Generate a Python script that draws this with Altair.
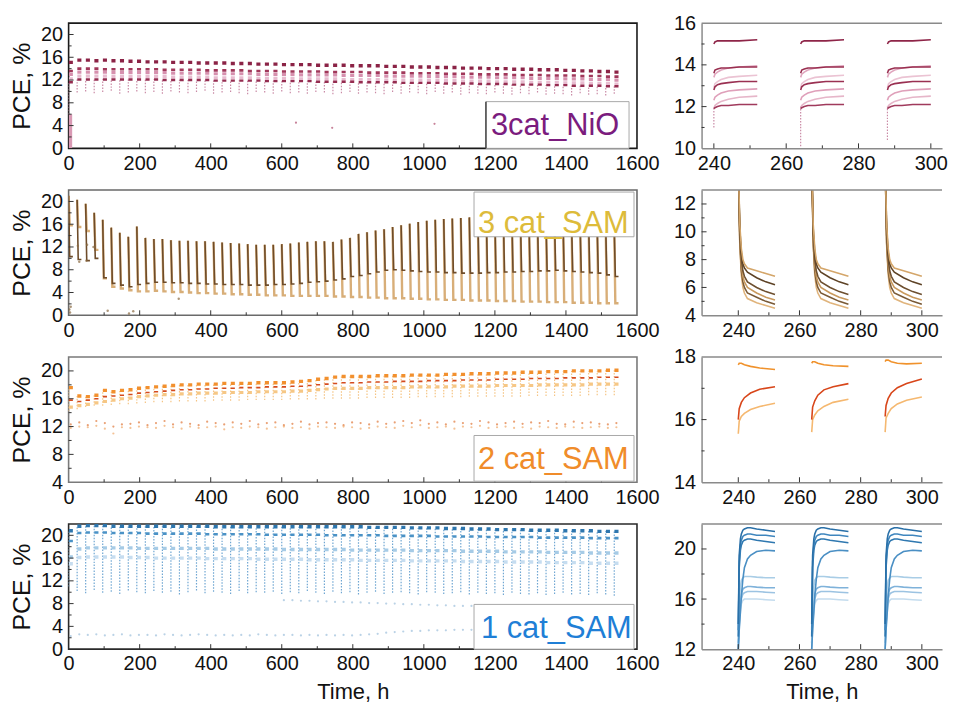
import altair as alt
import pandas as pd

FONT = "Liberation Sans"

# ---------------- shared time grid ----------------
cycle_start = list(range(0, 1537, 24))          # start of each 12 h light period
zoom_cycles = [240, 264, 288]

# ---------------- 3cat_NiO (left) ----------------
nio_top = [15.1,15.5,15.5,15.4,15.5,15.4,15.4,15.3,15.3,15.2,
           15.2,15.2,15.1,15.1,15.1,15.0,15.0,15.0,15.0,14.9,
           14.9,14.9,14.8,14.8,14.8,14.7,14.7,14.7,14.7,14.6,
           14.6,14.6,14.6,14.5,14.5,14.5,14.5,14.4,14.4,14.4,
           14.3,14.3,14.3,14.2,14.2,14.2,14.1,14.1,14.1,14.0,
           14.0,14.0,13.9,13.9,13.9,13.8,13.8,13.8,13.7,13.7,
           13.6,13.6,13.5,13.5,13.4]
nio_d2 = [13.6,14.0,14.0,14.0,13.9,13.9,13.9,13.9,13.9,13.9,
          13.9,13.8,13.8,13.8,13.8,13.8,13.7,13.7,13.7,13.7,
          13.7,13.6,13.6,13.6,13.6,13.5,13.5,13.5,13.5,13.5,
          13.4,13.4,13.4,13.4,13.4,13.3,13.3,13.3,13.3,13.3,
          13.2,13.2,13.2,13.2,13.1,13.1,13.1,13.1,13.0,13.0,
          13.0,13.0,12.9,12.9,12.9,12.9,12.8,12.8,12.8,12.8,
          12.7,12.7,12.7,12.6,12.6]
nio_l1 = [13.0,13.4,13.4,13.4,13.4,13.3,13.3,13.3,13.3,13.3,
          13.3,13.3,13.2,13.2,13.2,13.2,13.2,13.1,13.1,13.1,
          13.1,13.1,13.0,13.0,13.0,13.0,13.0,12.9,12.9,12.9,
          12.9,12.9,12.8,12.8,12.8,12.8,12.8,12.7,12.7,12.7,
          12.7,12.7,12.6,12.6,12.6,12.6,12.5,12.5,12.5,12.5,
          12.4,12.4,12.4,12.4,12.3,12.3,12.3,12.3,12.2,12.2,
          12.2,12.1,12.1,12.1,12.0]
nio_l2 = [12.2,12.7,12.7,12.7,12.7,12.6,12.6,12.6,12.6,12.6,
          12.6,12.6,12.5,12.5,12.5,12.5,12.5,12.4,12.4,12.4,
          12.4,12.4,12.3,12.3,12.3,12.3,12.3,12.2,12.2,12.2,
          12.2,12.2,12.1,12.1,12.1,12.1,12.1,12.0,12.0,12.0,
          12.0,12.0,11.9,11.9,11.9,11.9,11.8,11.8,11.8,11.8,
          11.7,11.7,11.7,11.7,11.6,11.6,11.6,11.6,11.5,11.5,
          11.5,11.4,11.4,11.4,11.3]
nio_d4 = [11.6,12.1,12.1,12.1,12.1,12.1,12.1,12.1,12.1,12.1,
          12.1,12.0,12.0,12.0,12.0,12.0,12.0,11.9,11.9,11.9,
          11.9,11.9,11.9,11.8,11.8,11.8,11.8,11.8,11.8,11.7,
          11.7,11.7,11.7,11.7,11.6,11.6,11.6,11.6,11.6,11.5,
          11.5,11.5,11.5,11.5,11.4,11.4,11.4,11.4,11.3,11.3,
          11.3,11.3,11.2,11.2,11.2,11.2,11.1,11.1,11.1,11.0,
          11.0,11.0,11.0,10.9,10.9]
nio_low = [6.0,9.8,10.0,9.7,9.9,10.1,9.6,9.8,10.0,9.7,
           9.9,9.6,10.0,9.8,9.7,9.9,10.1,9.6,9.8,9.9,
           9.7,9.5,9.9,9.8,9.6,10.0,9.7,9.8,9.6,9.9,
           9.8,9.5,9.7,9.9,9.6,9.8,9.7,9.5,9.9,9.6,
           9.8,9.7,9.5,9.9,9.6,9.8,9.4,9.7,9.6,9.5,
           9.8,9.6,9.4,9.7,9.5,9.8,9.4,9.6,9.5,9.3,
           9.7,9.4,9.5,9.3,9.6]
nio_early_span = [0, 10, 0, 6]          # t0, t1, v0, v1 of the failed-start column
nio_out_t = [640, 742, 1030]
nio_out_v = [4.5, 3.6, 4.3]

# ---------------- 3 cat_SAM (left) ----------------
sam3_top = [21.0,20.3,19.6,18.0,16.8,15.4,14.5,13.8,15.6,13.6,
            13.4,13.4,13.2,13.1,13.1,13.0,13.0,12.9,12.8,12.7,
            12.6,12.5,12.4,12.4,12.4,12.5,12.6,12.8,12.9,13.0,
            13.0,12.9,13.3,13.6,14.3,14.6,14.9,15.1,15.5,15.8,
            16.1,16.4,16.6,16.8,16.9,17.0,17.1,17.2,17.2,17.1,
            17.0,16.9,16.8,16.7,16.6,16.5,16.4,16.2,16.0,15.9,
            15.8,15.7,15.5,15.4,15.2]
sam3_dark_end = [10.3,9.8,9.6,10.0,6.6,5.6,5.3,5.0,5.4,5.6,
                 5.8,5.8,5.7,5.7,5.6,5.6,5.5,5.5,5.4,5.4,
                 5.4,5.3,5.3,5.3,5.4,5.4,5.5,5.6,5.8,5.9,
                 6.0,6.2,6.4,6.8,7.0,7.3,7.6,7.9,8.0,7.9,
                 7.8,7.7,7.6,7.6,7.5,7.5,7.4,7.4,7.4,7.5,
                 7.5,7.6,7.6,7.7,7.7,7.8,7.8,7.9,7.8,7.7,
                 7.6,7.5,7.4,7.1,6.8]
sam3_light_end = [15.8,15.5,14.8,11.5,6.5,5.0,4.7,4.4,4.2,4.2,
                  4.3,4.2,4.1,4.1,4.0,3.9,3.9,3.8,3.8,3.7,
                  3.7,3.6,3.6,3.5,3.5,3.5,3.4,3.4,3.4,3.4,
                  3.4,3.3,3.3,3.2,3.2,3.1,3.1,3.0,3.0,3.0,
                  2.9,2.9,2.8,2.8,2.7,2.7,2.7,2.6,2.6,2.6,
                  2.5,2.5,2.5,2.4,2.4,2.4,2.3,2.3,2.3,2.2,
                  2.2,2.2,2.1,2.1,2.1]
sam3_out_t = [2, 4, 6, 26, 30, 50, 52, 70, 110, 170, 182, 310]
sam3_out_v = [1.0, 0.5, 1.5, 12.2, 9.4, 9.6, 12.4, 12.0, 0.8, 0.3, 0.7, 2.9]

# ---------------- 2 cat_SAM (left) ----------------
sam2_top = [17.6,16.4,16.3,16.5,17.2,17.0,17.2,17.3,17.5,17.6,
            17.7,17.8,17.9,18.0,18.0,18.1,18.1,18.1,18.2,18.2,
            18.2,18.2,18.3,18.3,18.3,18.3,18.4,18.5,18.6,18.8,
            18.9,19.1,19.2,19.2,19.2,19.2,19.3,19.3,19.3,19.3,
            19.4,19.4,19.4,19.4,19.5,19.5,19.5,19.6,19.6,19.6,
            19.7,19.7,19.7,19.8,19.8,19.8,19.9,19.9,19.9,20.0,
            20.0,20.0,20.0,20.1,20.1]
sam2_red = [15.8,15.6,15.8,16.0,16.3,16.4,16.5,16.6,16.8,16.9,
            17.0,17.1,17.2,17.3,17.3,17.4,17.4,17.5,17.5,17.5,
            17.6,17.6,17.6,17.7,17.7,17.7,17.8,17.8,17.9,18.0,
            18.1,18.2,18.3,18.3,18.3,18.4,18.4,18.4,18.5,18.5,
            18.5,18.5,18.6,18.6,18.6,18.6,18.7,18.7,18.7,18.7,
            18.8,18.8,18.8,18.8,18.9,18.9,18.9,18.9,19.0,19.0,
            19.0,19.0,19.1,19.1,19.1]
sam2_light = [14.8,15.0,15.2,15.4,15.6,15.8,16.0,16.1,16.3,16.4,
              16.5,16.6,16.6,16.7,16.7,16.8,16.8,16.8,16.9,16.9,
              16.9,16.9,17.0,17.0,17.0,17.0,17.1,17.1,17.2,17.3,
              17.4,17.5,17.5,17.5,17.5,17.6,17.6,17.6,17.6,17.6,
              17.7,17.7,17.7,17.7,17.7,17.8,17.8,17.8,17.8,17.8,
              17.9,17.9,17.9,17.9,17.9,18.0,18.0,18.0,18.0,18.0,
              18.0,18.1,18.1,18.1,18.1]
sam2_low = [14.2,14.5,14.8,15.0,15.0,15.1,15.2,15.2,15.3,15.4,
            15.5,15.5,15.5,15.6,15.6,15.6,15.6,15.7,15.7,15.7,
            15.7,15.8,15.8,15.8,15.8,15.8,15.9,15.9,15.9,15.9,
            16.0,16.0,16.0,16.0,16.0,16.1,16.1,16.1,16.1,16.1,
            16.1,16.2,16.2,16.2,16.2,16.2,16.2,16.3,16.3,16.3,
            16.3,16.3,16.3,16.3,16.4,16.4,16.4,16.4,16.4,16.4,
            16.4,16.5,16.5,16.5,16.5]
sam2_dot_a = [12.3,12.6,12.2,12.8,12.5,12.0,12.3,12.4,12.6,12.2,
              12.5,12.8,12.3,12.6,12.4,12.2,12.7,12.5,12.3,12.6,
              12.4,12.8,12.3,12.5,12.6,12.2,12.4,12.7,12.3,12.5,
              12.6,12.4,12.2,12.6,12.5,12.3,12.7,12.4,12.6,12.8,
              12.5,12.9,12.4,12.6,12.3,12.7,12.5,12.4,12.8,12.6,
              12.3,12.5,12.7,12.4,12.6,12.5,12.8,12.4,12.3,12.7,
              12.5,12.6,12.4,12.3,12.5]
sam2_dot_b = [11.8,12.0,11.9,12.1,11.7,11.0,11.9,11.8,12.0,11.9,
              11.8,12.1,11.9,11.7,12.0,11.8,11.9,12.0,11.6,11.9,
              11.8,12.0,11.9,11.7,11.9,12.0,11.8,11.9,11.7,12.0,
              11.9,11.8,12.0,11.9,11.7,11.8,12.0,11.9,11.8,12.1,
              11.9,12.2,11.8,11.9,12.0,11.7,12.0,11.9,12.1,11.8,
              11.9,12.0,11.8,11.9,11.7,12.0,11.9,11.8,12.0,11.9,
              11.8,11.9,12.0,11.8,11.9]

# ---------------- 1 cat_SAM (left) ----------------
blue_top = [20.8,21.6,21.7,21.7,21.7,21.6,21.6,21.6,21.6,21.6,
            21.6,21.6,21.6,21.6,21.6,21.6,21.6,21.5,21.5,21.5,
            21.5,21.5,21.5,21.5,21.5,21.5,21.5,21.5,21.5,21.5,
            21.5,21.5,21.5,21.5,21.5,21.4,21.4,21.4,21.4,21.4,
            21.3,21.3,21.3,21.3,21.2,21.2,21.2,21.1,21.1,21.1,
            21.0,21.0,21.0,21.0,20.9,20.9,20.9,20.9,20.8,20.8,
            20.8,20.8,20.7,20.7,20.7]
blue_mid = [19.0,20.4,20.5,20.5,20.5,20.4,20.4,20.4,20.4,20.3,
            20.3,20.3,20.3,20.3,20.3,20.3,20.2,20.2,20.2,20.2,
            20.2,20.2,20.2,20.1,20.1,20.1,20.1,20.1,20.1,20.1,
            20.0,20.0,20.0,20.0,20.0,20.0,20.0,19.9,19.9,19.9,
            19.9,19.9,19.9,19.8,19.8,19.8,19.8,19.8,19.8,19.7,
            19.7,19.7,19.7,19.7,19.7,19.6,19.6,19.6,19.6,19.6,
            19.6,19.5,19.5,19.5,19.5]
blue_light = [16.2,17.6,17.8,17.8,17.8,17.8,17.8,17.8,17.7,17.7,
              17.7,17.7,17.7,17.7,17.7,17.7,17.7,17.6,17.6,17.6,
              17.6,17.6,17.6,17.6,17.6,17.5,17.5,17.5,17.5,17.5,
              17.5,17.5,17.5,17.4,17.4,17.4,17.4,17.4,17.4,17.4,
              17.3,17.3,17.3,17.3,17.3,17.3,17.2,17.2,17.2,17.2,
              17.2,17.1,17.1,17.1,17.1,17.1,17.0,17.0,17.0,17.0,
              17.0,16.9,16.9,16.9,16.9]
blue_lighter = [15.0,16.1,16.2,16.2,16.2,16.2,16.2,16.1,16.1,16.1,
                16.0,16.0,16.0,16.0,16.0,16.0,15.9,15.9,15.9,15.9,
                15.9,15.9,15.8,15.8,15.8,15.8,15.8,15.8,15.7,15.7,
                15.7,15.7,15.7,15.7,15.6,15.6,15.6,15.6,15.6,15.6,
                15.5,15.5,15.5,15.5,15.5,15.5,15.4,15.4,15.4,15.4,
                15.4,15.3,15.3,15.3,15.3,15.3,15.2,15.2,15.2,15.2,
                15.2,15.1,15.1,15.1,15.1]
blue_low = [11.0,10.2,9.8,10.4,9.9,10.1,9.7,10.3,10.0,9.8,
            10.2,9.9,10.1,9.6,10.0,10.3,9.8,10.1,9.9,9.7,
            10.2,9.8,10.0,9.9,10.1,9.7,10.0,9.8,10.2,9.9,
            9.7,10.1,9.8,10.0,9.6,9.9,10.1,9.7,9.9,10.0,
            9.8,9.6,10.0,9.9,9.7,9.8,10.0,9.6,9.9,9.7,
            9.8,9.5,9.9,9.7,9.6,9.8,9.5,9.7,9.9,9.6,
            9.7,9.5,9.8,9.6,9.4]
blue_dot_low = [2.3,2.6,2.5,2.6,2.4,2.5,2.6,2.4,2.5,2.5,
                2.4,2.6,2.5,2.4,2.5,2.6,2.5,2.4,2.5,2.4,
                2.5,2.4,2.6,2.5,2.4,2.5,2.5,2.4,2.5,2.4,
                2.5,2.4,2.5,2.4,2.5,2.6,2.7,2.9,3.0,3.1,
                3.2,3.2,3.3,3.3,3.3,3.4,3.4,3.4,3.4,3.5,
                3.5,3.5,3.5,3.5,3.6,3.6,3.6,3.6,3.6,3.6,
                3.6,3.7,3.7,3.7,3.7]
blue_dot_mid_first = 25
blue_dot_mid = [8.6,8.6,8.5,8.5,8.4,8.4,8.3,8.3,8.2,8.2,8.1,8.1,
                8.0,8.0,7.9,7.9,7.8,7.8,7.7,7.7,7.6,7.6,7.6]

# ---------------- zoomed cycles (right) ----------------
nio_z_off = [0, 0.3, 1, 2, 4, 7, 12]
nio_z_d1 = [15.0, 15.1, 15.15, 15.15, 15.15, 15.15, 15.2]
nio_z_d2 = [13.6, 13.75, 13.8, 13.85, 13.85, 13.9, 13.9]
nio_z_la = [13.4, 13.55, 13.65, 13.75, 13.85, 13.9, 13.95]
nio_z_ld = [12.9, 13.1, 13.2, 13.3, 13.4, 13.45, 13.5]
nio_z_d3 = [12.8, 12.95, 13.05, 13.1, 13.15, 13.2, 13.2]
nio_z_lb = [12.3, 12.45, 12.55, 12.65, 12.75, 12.8, 12.85]
nio_z_lc = [11.9, 12.05, 12.15, 12.25, 12.35, 12.45, 12.5]
nio_z_d4 = [11.9, 11.95, 12.0, 12.05, 12.05, 12.1, 12.1]
nio_z_start_low = [11.0, 10.1, 10.4]

sam3_z_off = [0, 0.5, 1, 1.5, 2, 3, 6, 9, 12]
sam3_z_a = [15.0, 10.5, 8.8, 8.0, 7.7, 7.4, 7.2, 7.0, 6.8]
sam3_z_b = [15.0, 10.2, 8.5, 7.7, 7.4, 7.1, 6.7, 6.4, 6.2]
sam3_z_c = [15.0, 9.8, 8.0, 7.2, 6.8, 6.4, 6.0, 5.7, 5.5]
sam3_z_d = [15.0, 9.5, 7.6, 6.8, 6.4, 6.0, 5.6, 5.3, 5.1]
sam3_z_e = [15.0, 9.2, 7.2, 6.4, 6.0, 5.6, 5.3, 5.0, 4.8]
sam3_z_f = [15.0, 9.0, 6.9, 6.0, 5.6, 5.2, 4.9, 4.7, 4.5]

sam2_z_off = [0, 0.3, 1, 2, 4, 7, 12]
sam2_z_top = [[17.75, 17.8, 17.8, 17.75, 17.7, 17.65, 17.6],
              [17.8, 17.85, 17.85, 17.8, 17.75, 17.72, 17.7],
              [17.85, 17.9, 17.9, 17.85, 17.8, 17.78, 17.8]]
sam2_z_red = [[16.0, 16.35, 16.55, 16.7, 16.85, 16.97, 17.05],
              [16.0, 16.4, 16.6, 16.78, 16.95, 17.05, 17.15],
              [16.1, 16.45, 16.68, 16.85, 17.02, 17.15, 17.3]]
sam2_z_light = [[15.55, 15.95, 16.1, 16.2, 16.32, 16.42, 16.52],
                [15.6, 16.0, 16.15, 16.28, 16.42, 16.55, 16.65],
                [15.6, 16.05, 16.2, 16.35, 16.5, 16.62, 16.72]]

blue_z_off = [0, 0.3, 0.7, 1, 1.5, 2, 3, 4, 6, 9, 12]
blue_z_d1 = [14.0, 19.5, 20.8, 21.2, 21.5, 21.6, 21.7, 21.7, 21.6, 21.5, 21.4]
blue_z_m1 = [13.5, 19.0, 20.3, 20.7, 21.0, 21.1, 21.2, 21.2, 21.1, 21.1, 21.0]
blue_z_d2 = [13.0, 18.5, 19.9, 20.3, 20.6, 20.7, 20.8, 20.8, 20.7, 20.6, 20.5]
blue_z_sl = [12.0, 13.5, 15.0, 16.2, 17.6, 18.5, 19.2, 19.5, 19.8, 19.9, 19.85]
blue_z_l1 = [12.5, 15.5, 17.0, 17.5, 17.7, 17.8, 17.8, 17.8, 17.75, 17.7, 17.7]
blue_z_l2 = [12.5, 14.5, 15.8, 16.4, 16.8, 16.9, 17.0, 17.0, 16.95, 16.9, 16.9]
blue_z_l3 = [12.0, 14.0, 15.4, 16.0, 16.4, 16.5, 16.6, 16.6, 16.6, 16.55, 16.5]
blue_z_l4 = [12.0, 13.8, 15.0, 15.6, 15.9, 16.0, 16.0, 16.0, 16.0, 15.95, 15.9]

# ---------------- helpers ----------------
LW, LH = 572, 126
RW, RH = 242, 126


def flags_df(plateau):
    rows = []
    for k, (t, p) in enumerate(zip(cycle_start, plateau)):
        rows += [{"t": t + 0.5, "v": p, "c": k}, {"t": t + 12, "v": p, "c": k}]
    return pd.DataFrame(rows)


def spike_df(top, end):
    rows = []
    for k, (t, a, b) in enumerate(zip(cycle_start, top, end)):
        rows += [{"t": t, "v": a, "c": k}, {"t": t + 3, "v": b, "c": k},
                 {"t": t + 12, "v": b, "c": k}]
    return pd.DataFrame(rows)


def zoom_df(offsets, profiles):
    rows = []
    for c, t0 in enumerate(zoom_cycles):
        prof = profiles[c] if isinstance(profiles[0], list) else profiles
        for o, v in zip(offsets, prof):
            rows.append({"t": t0 + o, "v": v, "c": c})
    return pd.DataFrame(rows)


def axis(values, title=None, pad=6, tpad=8, domain=False, tsize=22):
    kw = dict(values=values, labelFontSize=20, labelFont=FONT, labelColor="#111",
              ticks=False, grid=False, labelPadding=pad, labelFlush=False,
              labelOverlap=False, domain=domain, format="d")
    if domain:
        kw.update(domainColor="#8a8a8a", domainWidth=1.5)
    if title:
        kw.update(title=title, titleFontSize=tsize, titleFont=FONT,
                  titleFontWeight="normal", titleColor="#111", titlePadding=tpad)
    else:
        kw.update(title=None)
    return alt.Axis(**kw)


def panel(w, h, xdom, ydom, xlabels, ylabels, xmaj, xmin, ymaj, ymin, lines,
          xtitle=None, ytitle=None, right=False, frame="#555", extra=None):
    xs = alt.Scale(domain=xdom, nice=False, zero=False)
    ys = alt.Scale(domain=ydom, nice=False, zero=False)
    xa = axis(xlabels, xtitle, pad=5, tpad=8, domain=right, tsize=22)
    ya = axis(ylabels, ytitle, pad=6, tpad=6, domain=right, tsize=25)
    layers = []
    for df, kind, style in lines:
        if kind == "line":
            layers.append(alt.Chart(df).mark_line(clip=True, **style).encode(
                x=alt.X("t:Q", scale=xs, axis=xa), y=alt.Y("v:Q", scale=ys, axis=ya),
                detail="c:N"))
        elif kind == "comb":
            layers.append(alt.Chart(df).mark_rule(clip=True, **style).encode(
                x=alt.X("t:Q", scale=xs, axis=xa), y=alt.Y("lo:Q", scale=ys, axis=ya),
                y2="hi:Q"))
        elif kind == "dot":
            layers.append(alt.Chart(df).mark_circle(clip=True, **style).encode(
                x=alt.X("t:Q", scale=xs, axis=xa), y=alt.Y("v:Q", scale=ys, axis=ya)))
        elif kind == "rect":
            layers.append(alt.Chart(df).mark_rect(clip=True, **style).encode(
                x=alt.X("t0:Q", scale=xs, axis=xa), x2="t1:Q",
                y=alt.Y("v0:Q", scale=ys, axis=ya), y2="v1:Q"))
    tick_col = "#333"
    layers.append(alt.Chart(pd.DataFrame({"t": xmaj})).mark_rule(color=tick_col, strokeWidth=1).encode(
        x=alt.X("t:Q", scale=xs, axis=xa), y=alt.value(h), y2=alt.value(h - 5)))
    layers.append(alt.Chart(pd.DataFrame({"t": xmin})).mark_rule(color=tick_col, strokeWidth=1).encode(
        x=alt.X("t:Q", scale=xs, axis=xa), y=alt.value(h), y2=alt.value(h - 3)))
    layers.append(alt.Chart(pd.DataFrame({"v": ymaj})).mark_rule(color=tick_col, strokeWidth=1).encode(
        y=alt.Y("v:Q", scale=ys, axis=ya), x=alt.value(0), x2=alt.value(5)))
    layers.append(alt.Chart(pd.DataFrame({"v": ymin})).mark_rule(color=tick_col, strokeWidth=1).encode(
        y=alt.Y("v:Q", scale=ys, axis=ya), x=alt.value(0), x2=alt.value(3)))
    if right:
        layers.append(alt.Chart(pd.DataFrame({"a": [0]})).mark_rule(color="#8a8a8a", strokeWidth=1.5).encode(
            x=alt.value(0), x2=alt.value(w), y=alt.value(0)))
    if extra:
        layers += extra
    view = alt.ViewBackground(stroke="transparent", strokeWidth=0) if right else \
        alt.ViewBackground(stroke=frame, strokeWidth=1.6)
    return alt.layer(*layers).properties(width=w, height=h, view=view)


def legend(x0, x1, y0, y1, tx, ty, label, color, dark_left=False):
    one = pd.DataFrame({"a": [0]})
    out = [alt.Chart(one).mark_rect(fill="white", stroke="#a8a8a8", strokeWidth=1).encode(
        x=alt.value(x0), x2=alt.value(x1), y=alt.value(y0), y2=alt.value(y1))]
    if dark_left:
        out.append(alt.Chart(one).mark_rule(color="#222", strokeWidth=1.2).encode(
            x=alt.value(x0), y=alt.value(y0), y2=alt.value(y1)))
    out.append(alt.Chart(one).mark_text(align="left", baseline="alphabetic", fontSize=31,
                                        font=FONT, color=color).encode(
        x=alt.value(tx), y=alt.value(ty), text=alt.value(label)))
    return out


L_XLAB = list(range(0, 1601, 200))
L_XMAJ = list(range(200, 1600, 200))
L_XMIN = list(range(100, 1600, 200))
R_XLAB = [240, 260, 280, 300]
R_XMIN = [250, 270, 290]

comb_style = dict(strokeWidth=1.2, strokeDash=[1.5, 1.5])

# ---------------- panels ----------------
nio_left = panel(
    LW, LH, [0, 1600], [0, 22], L_XLAB, list(range(0, 21, 4)), L_XMAJ, L_XMIN,
    [4, 8, 12, 16, 20], [2, 6, 10, 14, 18], [
        (pd.DataFrame({"t": cycle_start, "lo": nio_low, "hi": nio_d4}), "comb", dict(color="#C98AA5", **comb_style)),
        (pd.DataFrame({"t0": [nio_early_span[0]], "t1": [nio_early_span[1]],
                       "v0": [nio_early_span[2]], "v1": [nio_early_span[3]]}), "rect", dict(color="#D99AB4")),
        (pd.DataFrame({"t": nio_out_t, "v": nio_out_v}), "dot", dict(color="#B05070", size=5)),
        (flags_df(nio_l2), "line", dict(color="#E8BCD0", strokeWidth=3.2)),
        (flags_df(nio_l1), "line", dict(color="#D690AE", strokeWidth=3.2)),
        (flags_df(nio_d4), "line", dict(color="#952C50", strokeWidth=2.4)),
        (flags_df(nio_d2), "line", dict(color="#A1375A", strokeWidth=2.6)),
        (flags_df(nio_top), "line", dict(color="#8B2346", strokeWidth=3.4)),
    ], ytitle="PCE, %", frame="#1a1a1a",
    extra=legend(420, 564, 79, 126, 425, 113, "3cat_NiO", "#7B1C7E", dark_left=True))

sam3_left = panel(
    LW, LH, [0, 1600], [0, 22], L_XLAB, list(range(0, 21, 4)), L_XMAJ, L_XMIN,
    [4, 8, 12, 16, 20], [2, 6, 10, 14, 18], [
        (spike_df(sam3_top, sam3_light_end), "line", dict(color="#D8AE78", strokeWidth=2.4)),
        (spike_df(sam3_top, sam3_dark_end), "line", dict(color="#6E4C2A", strokeWidth=1.6)),
        (pd.DataFrame({"t": sam3_out_t, "v": sam3_out_v}), "dot", dict(color="#8A6A40", size=6)),
    ], ytitle="PCE, %", frame="#6a6a6a",
    extra=legend(408, 569, 2, 47, 412, 43, "3 cat_SAM", "#DDBB3A"))

sam2_left = panel(
    LW, LH, [0, 1600], [4, 22], L_XLAB, list(range(4, 21, 4)), L_XMAJ, L_XMIN,
    [8, 12, 16, 20], [6, 10, 14, 18], [
        (pd.DataFrame({"t": cycle_start, "lo": sam2_low, "hi": sam2_top}), "comb", dict(color="#F5C483", **comb_style)),
        (pd.DataFrame({"t": [t + 6 for t in cycle_start], "v": sam2_dot_a}), "dot", dict(color="#E0783A", size=5)),
        (pd.DataFrame({"t": [t + 6 for t in cycle_start], "v": sam2_dot_b}), "dot", dict(color="#F0A868", size=5)),
        (flags_df(sam2_light), "line", dict(color="#F6C785", strokeWidth=3.2)),
        (flags_df(sam2_red), "line", dict(color="#D44A1E", strokeWidth=1.6)),
        (flags_df(sam2_top), "line", dict(color="#F2902E", strokeWidth=3.4)),
    ], ytitle="PCE, %", frame="#7a7a7a",
    extra=legend(408, 569, 79, 125, 412, 113, "2 cat_SAM", "#F08C2A"))

blue_left = panel(
    LW, LH, [0, 1600], [0, 22], L_XLAB, list(range(0, 21, 4)), L_XMAJ, L_XMIN,
    [4, 8, 12, 16, 20], [2, 6, 10, 14, 18], [
        (pd.DataFrame({"t": cycle_start, "lo": blue_low, "hi": blue_top}), "comb", dict(color="#6FA6D2", **comb_style)),
        (pd.DataFrame({"t": [t + 6 for t in cycle_start], "v": blue_dot_low}), "dot", dict(color="#9DBFDC", size=5)),
        (pd.DataFrame({"t": [cycle_start[blue_dot_mid_first + i] + 6 for i in range(len(blue_dot_mid))],
                       "v": blue_dot_mid}), "dot", dict(color="#9DBFDC", size=5)),
        (flags_df(blue_lighter), "line", dict(color="#C6DDF0", strokeWidth=3.4)),
        (flags_df(blue_light), "line", dict(color="#A6CBE6", strokeWidth=3.4)),
        (flags_df(blue_mid), "line", dict(color="#4A92C6", strokeWidth=2.6)),
        (flags_df(blue_top), "line", dict(color="#2D76AE", strokeWidth=3.4)),
    ], xtitle="Time, h", ytitle="PCE, %", frame="#2a2a2a",
    extra=legend(408, 569, 81, 126, 415, 115, "1 cat_SAM", "#1F7FD6"))

zstyle = dict(strokeWidth=1.6)
nio_right = panel(
    RW, RH, [236.6, 303.1], [10, 16], R_XLAB, [10, 12, 14, 16], R_XLAB, R_XMIN,
    [12, 14], [11, 13, 15], [
        (pd.DataFrame({"t": zoom_cycles, "lo": nio_z_start_low, "hi": [12.0, 12.0, 12.0]}), "comb",
         dict(color="#C98AA5", **comb_style)),
        (zoom_df(nio_z_off, nio_z_lc), "line", dict(color="#E6B6C9", **zstyle)),
        (zoom_df(nio_z_off, nio_z_lb), "line", dict(color="#DFA0BA", **zstyle)),
        (zoom_df(nio_z_off, nio_z_ld), "line", dict(color="#EBC3D3", **zstyle)),
        (zoom_df(nio_z_off, nio_z_la), "line", dict(color="#E0A6BE", **zstyle)),
        (zoom_df(nio_z_off, nio_z_d4), "line", dict(color="#A03A5C", **zstyle)),
        (zoom_df(nio_z_off, nio_z_d3), "line", dict(color="#9A3052", **zstyle)),
        (zoom_df(nio_z_off, nio_z_d2), "line", dict(color="#992F50", **zstyle)),
        (zoom_df(nio_z_off, nio_z_d1), "line", dict(color="#8E2548", **zstyle)),
    ], right=True)

sam3_right = panel(
    RW, RH, [228, 306.6], [4, 13], R_XLAB, [4, 6, 8, 10, 12], R_XLAB, R_XMIN,
    [6, 8, 10, 12], [5, 7, 9, 11], [
        (zoom_df(sam3_z_off, sam3_z_f), "line", dict(color="#E0B47C", **zstyle)),
        (zoom_df(sam3_z_off, sam3_z_e), "line", dict(color="#7A5A36", **zstyle)),
        (zoom_df(sam3_z_off, sam3_z_d), "line", dict(color="#C99A5E", **zstyle)),
        (zoom_df(sam3_z_off, sam3_z_c), "line", dict(color="#6E5030", **zstyle)),
        (zoom_df(sam3_z_off, sam3_z_b), "line", dict(color="#5E4326", **zstyle)),
        (zoom_df(sam3_z_off, sam3_z_a), "line", dict(color="#D4A66A", **zstyle)),
    ], right=True)

sam2_right = panel(
    RW, RH, [228, 306.6], [14, 18], R_XLAB, [14, 16, 18], R_XLAB, R_XMIN,
    [16], [15, 17], [
        (zoom_df(sam2_z_off, sam2_z_light), "line", dict(color="#F5B870", **zstyle)),
        (zoom_df(sam2_z_off, sam2_z_red), "line", dict(color="#D8461A", **zstyle)),
        (zoom_df(sam2_z_off, sam2_z_top), "line", dict(color="#F0922C", **zstyle)),
    ], right=True)

blue_right = panel(
    RW, RH, [228, 306.6], [12, 22], R_XLAB, [12, 16, 20], R_XLAB, R_XMIN,
    [16, 20], [14, 18], [
        (zoom_df(blue_z_off, blue_z_l4), "line", dict(color="#C4DCEE", **zstyle)),
        (zoom_df(blue_z_off, blue_z_l3), "line", dict(color="#9CC3E2", **zstyle)),
        (zoom_df(blue_z_off, blue_z_l2), "line", dict(color="#7FB2DA", **zstyle)),
        (zoom_df(blue_z_off, blue_z_l1), "line", dict(color="#A9CDE6", **zstyle)),
        (zoom_df(blue_z_off, blue_z_sl), "line", dict(color="#4A8FC4", **zstyle)),
        (zoom_df(blue_z_off, blue_z_d2), "line", dict(color="#2F78B0", **zstyle)),
        (zoom_df(blue_z_off, blue_z_m1), "line", dict(color="#3F86BE", **zstyle)),
        (zoom_df(blue_z_off, blue_z_d1), "line", dict(color="#2A70A8", **zstyle)),
    ], xtitle="Time, h", right=True)

chart = alt.concat(
    nio_left, nio_right,
    sam3_left, sam3_right,
    sam2_left, sam2_right,
    blue_left, blue_right,
    columns=2, spacing={"row": 42, "column": 65}, bounds="flush", align="each",
).properties(
    padding={"left": 0, "top": 3, "right": 0, "bottom": 0},
    background="white",
)

chart.save("out.html", embed_options={"renderer": "svg", "actions": False})
